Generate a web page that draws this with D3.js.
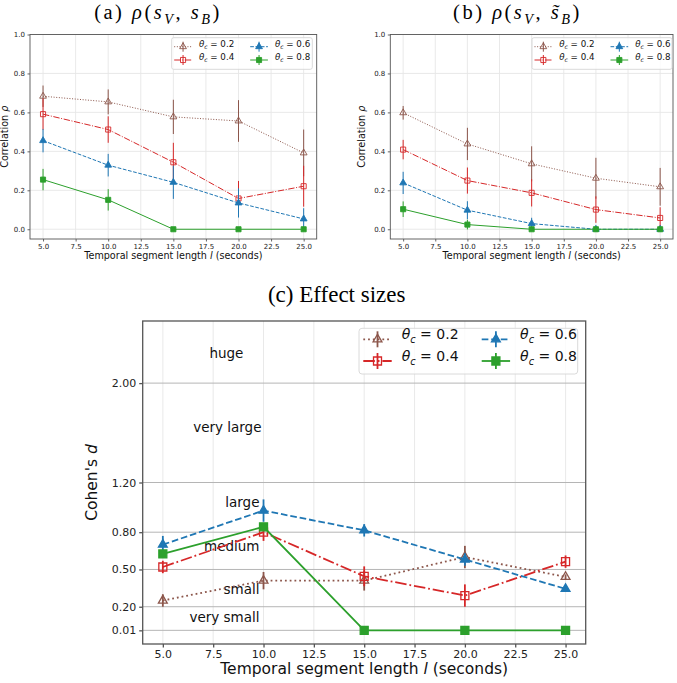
<!DOCTYPE html>
<html>
<head>
<meta charset="utf-8">
<script src="https://cdn.jsdelivr.net/npm/d3@7"></script>
<style>
body { margin: 0; background: #fff; }
svg { display: block; }
</style>
</head>
<body>
<div id="chart"></div>
<script>
// values
var lengths = [5, 10, 15, 20, 25];
var thetas = ['0.2', '0.4', '0.6', '0.8'];

// (a) rho(sV, sB), one row per theta_c
var rhoA = [[0.683, 0.654, 0.577, 0.556, 0.392],
            [0.591, 0.512, 0.344, 0.158, 0.221],
            [0.455, 0.329, 0.241, 0.135, 0.053],
            [0.255, 0.151, 0.0, 0.0, 0.0]];
var errA = [[0.055, 0.064, 0.088, 0.107, 0.12],
            [0.08, 0.068, 0.1, 0.09, 0.105],
            [0.06, 0.058, 0.085, 0.075, 0.055],
            [0.055, 0.055, 0, 0, 0]];

// (b) rho(sV, ~sB)
var rhoB = [[0.598, 0.438, 0.336, 0.262, 0.218],
            [0.409, 0.25, 0.187, 0.101, 0.058],
            [0.238, 0.098, 0.029, 0.0, 0.0],
            [0.103, 0.024, 0.0, 0.0, 0.0]];
var errB = [[0.035, 0.083, 0.09, 0.105, 0.097],
            [0.05, 0.067, 0.07, 0.068, 0.055],
            [0.057, 0.046, 0.03, 0, 0],
            [0.04, 0.025, 0, 0, 0]];

// (c) Cohen's d
var cohenD = [[0.25, 0.41, 0.41, 0.6, 0.44],
              [0.52, 0.8, 0.445, 0.29, 0.563],
              [0.7, 0.974, 0.815, 0.58, 0.344],
              [0.625, 0.843, 0.01, 0.01, 0.01]];
var errD = [[0.05, 0.07, 0.08, 0.09, 0.02],
            [0.05, 0.07, 0.08, 0.09, 0.05],
            [0.07, 0.09, 0.05, 0.05, 0.02],
            [0.03, 0.03, 0, 0, 0]];

var xTicks = [5, 7.5, 10, 12.5, 15, 17.5, 20, 22.5, 25];
var rhoTicks = [0, 0.2, 0.4, 0.6, 0.8, 1.0];
var dTicks = [0.01, 0.2, 0.5, 0.8, 1.2, 2.0];

var sizeLabels = ['huge', 'very large', 'large', 'medium', 'small', 'very small'];
var sizeLabelX = [9.0, 9.9, 9.8, 9.8, 9.8, 9.8];
var sizeLabelY = [2.24, 1.645, 1.04, 0.69, 0.338, 0.118];

// looks
var colors = ['#8c564b', '#d62728', '#1f77b4', '#2ca02c'];
var symbols = [d3.symbolTriangle, d3.symbolSquare, d3.symbolTriangle, d3.symbolSquare];
var hollow = [true, true, false, false];
var dashes = [[1, 1.65], [6.4, 1.6, 1, 1.6], [3.7, 1.6], null];

var W = 677, H = 683;
var sans = 'DejaVu Sans, sans-serif';
var serif = 'Liberation Serif, DejaVu Serif, serif';

var svg = d3.select('#chart').append('svg')
    .attr('width', W).attr('height', H)
    .style('background', '#fff');

// text with italic / subscript pieces
function rich(t, parts, size) {
    var shift = 0;
    parts.forEach(function(p) {
        var sub = p[1] === 'b';
        var target = sub ? size * 0.25 : 0;
        t.append('tspan').text(p[0])
            .attr('dy', target - shift)
            .attr('font-size', sub ? size * 0.7 : size)
            .attr('font-style', (p[1] === 'i' || sub) ? 'italic' : 'normal');
        shift = target;
    });
}

function panel(o) {
    var g = svg.append('g');
    var x = d3.scaleLinear().domain([4, 26]).range([o.left, o.right]);
    var y = d3.scaleLinear().domain(o.yDomain).range([o.bottom, o.top]);

    // grid
    g.append('g').selectAll('line').data(xTicks).join('line')
        .attr('x1', d => x(d)).attr('x2', d => x(d))
        .attr('y1', o.top).attr('y2', o.bottom)
        .attr('stroke', '#e6e6e6').attr('stroke-width', 0.9);
    g.append('g').selectAll('line').data(o.yTicks).join('line')
        .attr('x1', o.left).attr('x2', o.right)
        .attr('y1', d => y(d)).attr('y2', d => y(d))
        .attr('stroke', o.hGrid).attr('stroke-width', o.hGridW);

    // axes
    var xAxis = g.append('g')
        .attr('transform', 'translate(0,' + o.bottom + ')')
        .call(d3.axisBottom(x).tickValues(xTicks).tickFormat(d3.format('.1f'))
            .tickSize(o.tick).tickPadding(o.tickPad));
    var yAxis = g.append('g')
        .attr('transform', 'translate(' + o.left + ',0)')
        .call(d3.axisLeft(y).tickValues(o.yTicks).tickFormat(d3.format(o.yFmt))
            .tickSize(o.tick).tickPadding(o.tickPad));
    [xAxis, yAxis].forEach(function(a) {
        a.select('.domain').remove();
        a.selectAll('line').attr('stroke', '#555').attr('stroke-width', o.frameW);
        a.selectAll('text').attr('font-family', sans).attr('font-size', o.tickFont).attr('fill', '#222');
    });

    g.append('rect')
        .attr('x', o.left).attr('y', o.top)
        .attr('width', o.right - o.left).attr('height', o.bottom - o.top)
        .attr('fill', 'none').attr('stroke', '#555').attr('stroke-width', o.frameW);

    // axis labels
    var xl = g.append('text')
        .attr('x', (o.left + o.right) / 2).attr('y', o.xLabelY).attr('dy', '0.35em')
        .attr('text-anchor', 'middle').attr('font-family', sans).attr('fill', '#111');
    rich(xl, [['Temporal segment length ', ''], ['l', 'i'], [' (seconds)', '']], o.labelFont);
    var yl = g.append('text')
        .attr('transform', 'translate(' + o.yLabelX + ',' + (o.top + o.bottom) / 2 + ') rotate(-90)')
        .attr('dy', '0.35em')
        .attr('text-anchor', 'middle').attr('font-family', sans).attr('fill', '#111');
    rich(yl, o.yLabel, o.labelFont);

    // title
    var tt = g.append('text')
        .attr('x', o.titleX).attr('y', o.titleY)
        .attr('text-anchor', 'middle').attr('font-family', serif).attr('fill', '#000')
        .attr('letter-spacing', o.titleSpacing);
    rich(tt, o.title, o.titleFont);

    // annotations
    if (o.notes) {
        g.append('g').selectAll('text').data(sizeLabels).join('text')
            .attr('x', (d, i) => x(sizeLabelX[i]))
            .attr('y', (d, i) => y(sizeLabelY[i]))
            .attr('dy', '0.35em').attr('text-anchor', 'end')
            .attr('font-family', sans).attr('font-size', o.noteFont).attr('fill', '#111')
            .text(d => d);
    }

    // series
    var line = d3.line().x(d => x(d[0])).y(d => y(d[1]));
    o.values.forEach(function(vals, s) {
        var pts = lengths.map((l, k) => [l, vals[k], o.errors[s][k]]);
        var sg = g.append('g');
        sg.append('path').datum(pts)
            .attr('d', line).attr('fill', 'none')
            .attr('stroke', colors[s]).attr('stroke-width', o.lw)
            .attr('stroke-dasharray', dashes[s] ? dashes[s].map(v => v * o.lw).join(',') : null);
        sg.selectAll('line.err').data(pts.filter(d => d[2] > 0)).join('line')
            .attr('class', 'err')
            .attr('x1', d => x(d[0])).attr('x2', d => x(d[0]))
            .attr('y1', d => y(d[1] - d[2])).attr('y2', d => y(d[1] + d[2]))
            .attr('stroke', colors[s]).attr('stroke-width', o.lw);
        sg.selectAll('path.mk').data(pts).join('path')
            .attr('class', 'mk')
            .attr('transform', d => 'translate(' + x(d[0]) + ',' + y(d[1]) + ')')
            .attr('d', d3.symbol(symbols[s], symbols[s] === d3.symbolSquare ? o.sq : o.tri))
            .attr('fill', hollow[s] ? 'none' : colors[s])
            .attr('stroke', colors[s]).attr('stroke-width', o.mkW);
    });

    // legend
    var L = o.legend;
    var lg = g.append('g');
    lg.append('rect')
        .attr('x', L.x).attr('y', L.y).attr('width', L.w).attr('height', L.h)
        .attr('rx', L.r).attr('fill', '#fff').attr('fill-opacity', 0.8)
        .attr('stroke', '#d6d6d6').attr('stroke-width', 0.9);
    thetas.forEach(function(th, s) {
        var col = Math.floor(s / 2), row = s % 2;
        var hx = L.x + L.pad + col * L.colW;
        var hy = L.y + L.row0 + row * L.rowH;
        var mx = hx + L.hLen / 2;
        lg.append('line')
            .attr('x1', hx).attr('x2', hx + L.hLen).attr('y1', hy).attr('y2', hy)
            .attr('stroke', colors[s]).attr('stroke-width', o.lw)
            .attr('stroke-dasharray', dashes[s] ? dashes[s].map(v => v * o.lw).join(',') : null);
        lg.append('line')
            .attr('x1', mx).attr('x2', mx).attr('y1', hy - L.eb).attr('y2', hy + L.eb)
            .attr('stroke', colors[s]).attr('stroke-width', o.lw);
        lg.append('path')
            .attr('transform', 'translate(' + mx + ',' + hy + ')')
            .attr('d', d3.symbol(symbols[s], symbols[s] === d3.symbolSquare ? o.sq : o.tri))
            .attr('fill', hollow[s] ? 'none' : colors[s])
            .attr('stroke', colors[s]).attr('stroke-width', o.mkW);
        var lt = lg.append('text')
            .attr('x', hx + L.hLen + L.gap).attr('y', hy).attr('dy', '0.35em')
            .attr('font-family', sans).attr('fill', '#111');
        rich(lt, [['θ', 'i'], ['c', 'b'], [' = ' + th, '']], L.font);
    });
}

var rhoLabel = [['Correlation ', ''], ['ρ', 'i']];

panel({
    left: 30, right: 316.7, top: 34.5, bottom: 239,
    yDomain: [-0.05, 1.0], yTicks: rhoTicks, yFmt: '.1f',
    values: rhoA, errors: errA,
    hGrid: '#e6e6e6', hGridW: 0.9, frameW: 0.9,
    tick: 2.5, tickPad: 2.5, tickFont: 7,
    labelFont: 9.6, xLabelY: 259, yLabelX: 7.5, yLabel: rhoLabel,
    title: [['(a) ', ''], ['ρ', 'i'], ['(', ''], ['s', 'i'], ['V', 'b'], [', ', ''], ['s', 'i'], ['B', 'b'], [')', '']],
    titleX: 158, titleY: 19, titleFont: 20.5, titleSpacing: 2.5,
    lw: 1, mkW: 0.9, sq: 26, tri: 20,
    legend: {x: 171.7, y: 37.7, w: 140.6, h: 31.6, r: 2, pad: 2.5, colW: 76, row0: 9, rowH: 13.3,
             hLen: 17.7, gap: 7, eb: 5, font: 8.7}
});

panel({
    left: 390.3, right: 673, top: 34.5, bottom: 239,
    yDomain: [-0.05, 1.0], yTicks: rhoTicks, yFmt: '.1f',
    values: rhoB, errors: errB,
    hGrid: '#e6e6e6', hGridW: 0.9, frameW: 0.9,
    tick: 2.5, tickPad: 2.5, tickFont: 7,
    labelFont: 9.6, xLabelY: 259, yLabelX: 365, yLabel: rhoLabel,
    title: [['(b) ', ''], ['ρ', 'i'], ['(', ''], ['s', 'i'], ['V', 'b'], [', ', ''], ['s\u0303', 'i'], ['B', 'b'], [')', '']],
    titleX: 517.5, titleY: 19, titleFont: 20.5, titleSpacing: 2.5,
    lw: 1, mkW: 0.9, sq: 26, tri: 20,
    legend: {x: 532, y: 37.7, w: 140, h: 31.6, r: 2, pad: 2.5, colW: 76, row0: 9, rowH: 13.3,
             hLen: 17.7, gap: 7, eb: 5, font: 8.7}
});

panel({
    left: 142.7, right: 585.7, top: 321, bottom: 644,
    yDomain: [-0.1, 2.5], yTicks: dTicks, yFmt: '.2f',
    values: cohenD, errors: errD, notes: true, noteFont: 13.5,
    hGrid: '#b5b5b5', hGridW: 1, frameW: 1.3,
    tick: 3.5, tickPad: 3, tickFont: 11,
    labelFont: 15.5, xLabelY: 674, yLabelX: 97, yLabel: [["Cohen's ", ''], ['d', 'i']],
    title: [['(c) Effect sizes', '']],
    titleX: 336.7, titleY: 302, titleFont: 23, titleSpacing: 0,
    lw: 1.8, mkW: 1.3, sq: 64, tri: 34,
    legend: {x: 359, y: 328.3, w: 218.7, h: 45.7, r: 3, pad: 4.3, colW: 118.4, row0: 11, rowH: 21.7,
             hLen: 28.4, gap: 10, eb: 8, font: 14}
});
</script>
</body>
</html>
